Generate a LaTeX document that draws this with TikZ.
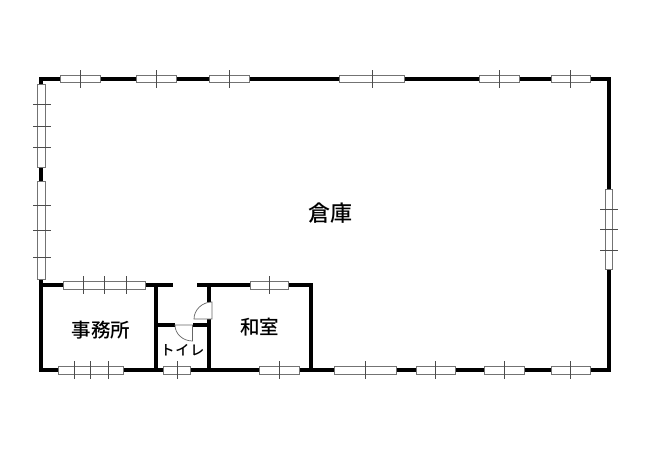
\documentclass[tikz,border=0pt]{standalone}
\usepackage{fontspec}
\newfontfamily\cjk{Noto Sans CJK JP Medium}
\tikzset{
    wall/.style={line width=4pt, line cap=butt, miter limit=10},
    sash/.style={draw=black!55, fill=white, line width=0.9pt},
    mullion/.style={draw=black!70, line width=0.6pt},
    leaf/.style={draw=black!60, fill=white, line width=0.7pt},
    roomname/.style={font=\cjk\fontsize{19.5}{20}\selectfont, inner sep=0pt}
}
\begin{document}
\begin{tikzpicture}[x=1pt, y=-1pt]
    \useasboundingbox[fill=white] (0, 0) rectangle (650, 450);

    % outer walls
    \draw[wall] (41, 79) rectangle (609, 370);
    % inner walls
    \draw[wall] (41, 285) -- (173, 285);
    \draw[wall] (197, 285) -- (311, 285) -- (311, 370);
    \draw[wall] (156, 285) -- (156, 370);
    \draw[wall] (209, 285) -- (209, 302);
    \draw[wall] (209, 319) -- (209, 370);
    \draw[wall] (156, 325) -- (175, 325);
    \draw[wall] (193, 325) -- (209, 325);

    % doors
    \draw[leaf] (175, 325) .. controls (175, 334) and (183, 341) .. (192.5, 341) -- (192.5, 325) -- cycle;
    \draw[leaf] (194, 319) .. controls (194, 310) and (202, 302) .. (212, 302) -- (212, 319) -- cycle;

    % top windows
    \draw[sash] (60, 75.5) rectangle (100, 82.5);
    \draw[mullion] (80, 70) -- (80, 88);
    \draw[sash] (136, 75.5) rectangle (176, 82.5);
    \draw[mullion] (156, 70) -- (156, 88);
    \draw[sash] (209, 75.5) rectangle (249, 82.5);
    \draw[mullion] (229, 70) -- (229, 88);
    \draw[sash] (339, 75.5) rectangle (404, 82.5);
    \draw[mullion] (372, 70) -- (372, 88);
    \draw[sash] (479.5, 75.5) rectangle (519, 82.5);
    \draw[mullion] (499, 70) -- (499, 88);
    \draw[sash] (551, 75.5) rectangle (590, 82.5);
    \draw[mullion] (570, 70) -- (570, 88);

    % left windows
    \draw[sash] (37.5, 84) rectangle (45, 167);
    \foreach \y in {104, 126, 147.5}
        \draw[mullion] (33, \y) -- (51, \y);
    \draw[sash] (37.5, 181) rectangle (45, 279);
    \foreach \y in {205.5, 230.5, 257}
        \draw[mullion] (33, \y) -- (51, \y);

    % right window
    \draw[sash] (605.5, 189) rectangle (612.5, 269);
    \foreach \y in {209, 229, 250}
        \draw[mullion] (600, \y) -- (618, \y);

    % room windows
    \draw[sash] (63, 281.5) rectangle (145, 289);
    \foreach \x in {83.5, 104, 126}
        \draw[mullion] (\x, 276) -- (\x, 294);
    \draw[sash] (250.5, 281.5) rectangle (288, 289);
    \draw[mullion] (269, 276) -- (269, 294);

    % bottom windows
    \draw[sash] (58, 366.5) rectangle (123, 374);
    \foreach \x in {74, 90.5, 108}
        \draw[mullion] (\x, 361) -- (\x, 379);
    \draw[sash] (163, 366.5) rectangle (190.5, 374);
    \draw[mullion] (177, 361) -- (177, 379);
    \draw[sash] (259, 366.5) rectangle (299, 374);
    \draw[mullion] (279, 361) -- (279, 379);
    \draw[sash] (334.5, 366.5) rectangle (396, 374);
    \draw[mullion] (365, 361) -- (365, 379);
    \draw[sash] (416, 366.5) rectangle (455.5, 374);
    \draw[mullion] (435.5, 361) -- (435.5, 379);
    \draw[sash] (484.5, 366.5) rectangle (524.5, 374);
    \draw[mullion] (504, 361) -- (504, 379);
    \draw[sash] (551, 366.5) rectangle (590.5, 374);
    \draw[mullion] (570.5, 361) -- (570.5, 379);

    % room names
    \node[roomname, font=\cjk\fontsize{22}{22}\selectfont] (souko) at (330, 213) {倉庫};
    \node[roomname] (jimusho) at (101, 330) {事務所};
    \node[roomname] (washitsu) at (259.5, 327) {和室};
    \node[roomname, font=\cjk\fontsize{14}{14}\selectfont] (toilet) at (182.5, 350) {ト\hspace{1pt}イ\hspace{1pt}レ};
\end{tikzpicture}
\end{document}
